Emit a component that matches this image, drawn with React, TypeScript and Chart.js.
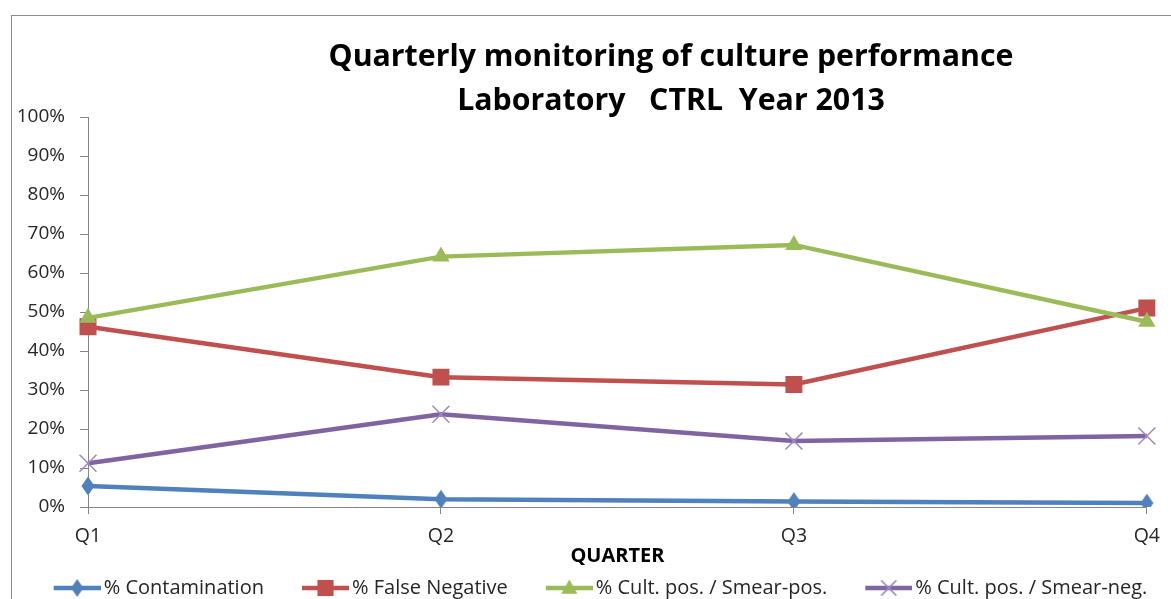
import React, { useEffect, useRef } from "react";
import { Chart, registerables } from "chart.js";

Chart.register(...registerables);

// ---- data ----
const quarters = ["Q1", "Q2", "Q3", "Q4"];
const seriesLabels = [
  "% Contamination",
  "% False Negative",
  "% Cult. pos. / Smear-pos.",
  "% Cult. pos. / Smear-neg.",
];
const contamination = [5.4, 2.0, 1.4, 1.0];
const falseNegative = [46.2, 33.3, 31.4, 51.0];
const cultPosSmearPos = [48.5, 64.2, 67.2, 47.5];
const cultPosSmearNeg = [11.2, 23.8, 16.9, 18.2];
const titleLines = [
  "Quarterly monitoring of culture performance",
  "Laboratory   CTRL  Year 2013",
];
const xAxisTitle = "QUARTER";

const BLUE = "#4F81BD";
const RED = "#C0504D";
const GREEN = "#9BBB59";
const PURPLE = "#8064A2";
const PURPLE_X = "#9C8AC0";
const AXIS = "#868686";
const FONT = "'Open Sans'";
const TEXT = "#262626";

type Kind = "diamond" | "square" | "triangle" | "cross";

function drawMarker(g: CanvasRenderingContext2D, kind: Kind, cx: number, cy: number, color: string, s: number) {
  g.save();
  g.fillStyle = color;
  g.strokeStyle = color;
  g.beginPath();
  if (kind === "diamond") {
    const hw = 6.5 * s, hh = 9.5 * s;
    g.moveTo(cx, cy - hh);
    g.lineTo(cx + hw, cy);
    g.lineTo(cx, cy + hh);
    g.lineTo(cx - hw, cy);
    g.closePath();
    g.fill();
  } else if (kind === "square") {
    const h = 8.5 * s;
    g.rect(cx - h, cy - h, 2 * h, 2 * h);
    g.fill();
  } else if (kind === "triangle") {
    const hw = 8.5 * s;
    g.moveTo(cx, cy - 9 * s);
    g.lineTo(cx + hw, cy + 6 * s);
    g.lineTo(cx - hw, cy + 6 * s);
    g.closePath();
    g.fill();
  } else {
    const h = 8 * s;
    g.lineWidth = 1.5;
    g.moveTo(cx - h, cy - h);
    g.lineTo(cx + h, cy + h);
    g.moveTo(cx + h, cy - h);
    g.lineTo(cx - h, cy + h);
    g.stroke();
  }
  g.restore();
}

function diamondPoint(color: string) {
  const c = document.createElement("canvas");
  c.width = 14;
  c.height = 20;
  const g = c.getContext("2d")!;
  drawMarker(g, "diamond", 7, 10, color, 1);
  return c;
}

// legend symbol: transparent left part (acts as spacing), then a 47px line with the marker in its middle
const LEG_GAP = 38;
const LEG_BOX = LEG_GAP + 40;
const LEG_IMG_W = LEG_GAP + 54;
const LEG_LINE_START = LEG_GAP + 7;
function legendImage(kind: Kind, lineColor: string, markerColor: string) {
  const c = document.createElement("canvas");
  c.width = LEG_IMG_W;
  c.height = 22;
  const g = c.getContext("2d")!;
  g.strokeStyle = lineColor;
  g.lineWidth = 4.5;
  g.beginPath();
  g.moveTo(LEG_LINE_START, 11);
  g.lineTo(LEG_IMG_W, 11);
  g.stroke();
  drawMarker(g, kind, (LEG_LINE_START + LEG_IMG_W) / 2, 11, markerColor, 0.95);
  return c;
}

export default function App() {
  const ref = useRef<HTMLCanvasElement>(null);

  useEffect(() => {
    if (!ref.current) return;
    const legendImgs = [
      legendImage("diamond", BLUE, BLUE),
      legendImage("square", RED, RED),
      legendImage("triangle", GREEN, GREEN),
      legendImage("cross", PURPLE, PURPLE_X),
    ];

    const titlePlugin = {
      id: "customTitle",
      afterDraw(chart: any) {
        const ctx = chart.ctx;
        ctx.save();
        ctx.font = `bold 30.3px ${FONT}`;
        ctx.fillStyle = "#000";
        ctx.textAlign = "center";
        ctx.textBaseline = "alphabetic";
        ctx.fillText(titleLines[0], 671, 66);
        ctx.fillText(titleLines[1], 671, 110);
        ctx.restore();
      },
    };

    const chart = new Chart(ref.current, {
      type: "line",
      data: {
        labels: quarters,
        datasets: [
          {
            label: seriesLabels[0],
            data: contamination,
            borderColor: BLUE,
            backgroundColor: BLUE,
            borderWidth: 4.5,
            pointStyle: diamondPoint(BLUE) as any,
            pointRadius: 9,
            order: 3,
          },
          {
            label: seriesLabels[1],
            data: falseNegative,
            borderColor: RED,
            backgroundColor: RED,
            borderWidth: 4.5,
            pointStyle: "rect",
            pointRadius: 12,
            pointBorderWidth: 0,
            pointBackgroundColor: RED,
            order: 2,
          },
          {
            label: seriesLabels[2],
            data: cultPosSmearPos,
            borderColor: GREEN,
            backgroundColor: GREEN,
            borderWidth: 4.5,
            pointStyle: "triangle",
            pointRadius: 10,
            pointBorderWidth: 0,
            pointBackgroundColor: GREEN,
            order: 1,
          },
          {
            label: seriesLabels[3],
            data: cultPosSmearNeg,
            borderColor: PURPLE,
            backgroundColor: PURPLE,
            borderWidth: 4.5,
            pointStyle: "crossRot",
            pointRadius: 12,
            pointBorderWidth: 1.5,
            pointBorderColor: PURPLE_X,
            order: 0,
          },
        ],
      },
      options: {
        animation: false,
        responsive: false,
        devicePixelRatio: 1,
        layout: { padding: { top: 117, left: 12, right: 20, bottom: 0 } },
        plugins: {
          title: { display: false },
          tooltip: { enabled: false },
          legend: {
            display: true,
            position: "bottom",
            labels: {
              usePointStyle: true,
              pointStyleWidth: LEG_BOX,
              padding: 0,
              color: TEXT,
              font: { family: FONT, size: 20 },
              sort: (a: any, b: any) => a.datasetIndex - b.datasetIndex,
              generateLabels: (ch: any) => {
                const items = Chart.defaults.plugins.legend.labels.generateLabels(ch);
                return items.map((it: any) => ({
                  ...it,
                  pointStyle: legendImgs[it.datasetIndex],
                }));
              },
            },
          },
        },
        scales: {
          x: {
            type: "category",
            offset: false,
            grid: { drawOnChartArea: false, drawTicks: true, tickLength: 7, color: AXIS },
            border: { display: true, color: AXIS, width: 1 },
            ticks: { color: TEXT, font: { family: FONT, size: 19.5 }, padding: 11 },
            title: {
              display: true,
              text: xAxisTitle,
              color: "#000",
              font: { family: FONT, size: 20, weight: "bold" },
              padding: { top: 0, bottom: 10 },
            },
            afterFit(s: any) {
              s.height = 71;
            },
          },
          y: {
            min: 0,
            max: 100,
            grid: { drawOnChartArea: false, drawTicks: true, tickLength: 8, color: AXIS },
            border: { display: true, color: AXIS, width: 1 },
            ticks: {
              stepSize: 10,
              color: TEXT,
              font: { family: FONT, size: 19 },
              padding: 15,
              callback: (v: any) => `${v}%`,
            },
            afterFit(s: any) {
              s.width = 76;
            },
          },
        },
      },
      plugins: [titlePlugin],
    } as any);

    return () => chart.destroy();
  }, []);

  return (
    <div
      style={{
        position: "fixed",
        left: 0,
        top: 0,
        width: 1171,
        height: 599,
        overflow: "hidden",
        background: "#fff",
      }}
    >
      <div
        style={{
          position: "absolute",
          left: 11,
          top: 15,
          width: 1300,
          height: 700,
          border: `1px solid #8c8c8c`,
        }}
      />
      <canvas ref={ref} width={1171} height={608} style={{ position: "absolute", left: 0, top: 0 }} />
    </div>
  );
}
